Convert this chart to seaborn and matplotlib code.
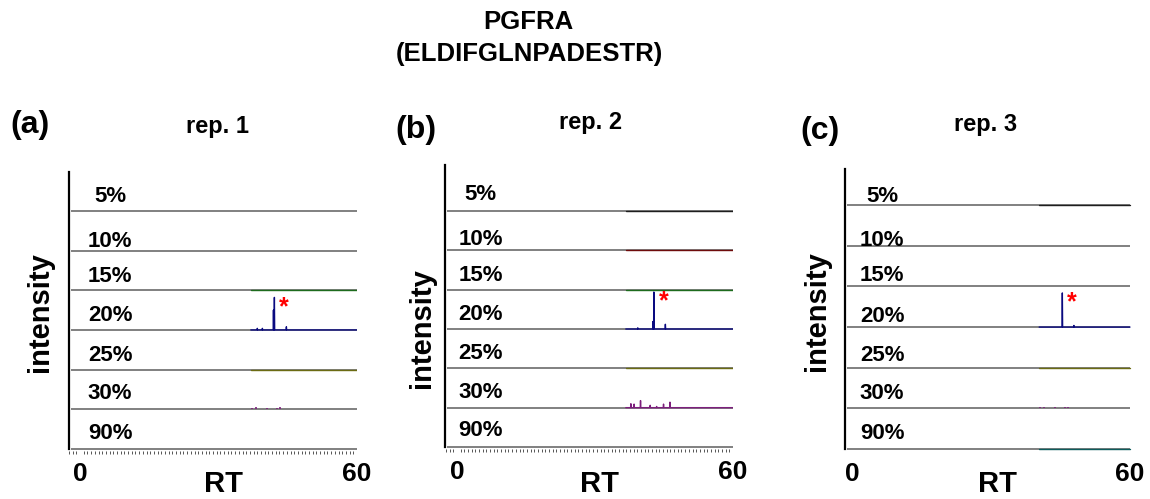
import matplotlib
matplotlib.use("Agg")
import pandas as pd
import matplotlib.pyplot as plt
import seaborn as sns
from matplotlib.ticker import MultipleLocator, NullLocator

# ---- data ----
rows = ['5%', '10%', '15%', '20%', '25%', '30%', '90%']
row_colors = ['#1e1e1e', '#6e0b0b', '#1d6b1d', '#0a0a80', '#6b6b12', '#7d1f7d', '#0c5c5c']
reps = ['rep. 1', 'rep. 2', 'rep. 3']
panel_tags = ['(a)', '(b)', '(c)']
rt_range = [0, 60]

# RT where the recorded trace starts (min) for each replicate
trace_start = [37.0, 36.7, 40.4]
# rows that have a coloured trace
traced_rep1 = ['15%', '20%', '25%']
traced_rep2 = ['5%', '10%', '15%', '20%', '25%', '30%']
traced_rep3 = ['5%', '20%', '25%', '90%']

# peaks: retention time (min) and relative intensity (fraction of one row)
rep1_20_rt = [38.4, 39.5, 41.9, 42.1, 44.7]
rep1_20_int = [0.04, 0.04, 0.50, 0.82, 0.08]
rep1_30_rt = [37.2, 38.1, 40.4, 42.6, 43.3]
rep1_30_int = [0.03, 0.05, 0.03, 0.04, 0.05]
rep2_20_rt = [39.3, 42.6, 42.8, 45.3]
rep2_20_int = [0.03, 0.19, 0.94, 0.12]
rep2_30_rt = [37.8, 38.5, 39.9, 42.0, 43.4, 44.9, 46.3]
rep2_30_int = [0.10, 0.09, 0.18, 0.06, 0.03, 0.09, 0.14]
rep3_20_rt = [45.4, 47.9]
rep3_20_int = [0.84, 0.04]
rep3_30_rt = [40.6, 41.5, 43.9, 46.0, 46.6]
rep3_30_int = [0.03, 0.03, 0.03, 0.03, 0.04]

# target peak (marked with *) per replicate
target_rt = [42.1, 42.8, 45.4]
target_int = [0.82, 0.94, 0.84]

traced = [traced_rep1, traced_rep2, traced_rep3]
peaks = [
    {'20%': (rep1_20_rt, rep1_20_int), '30%': (rep1_30_rt, rep1_30_int)},
    {'20%': (rep2_20_rt, rep2_20_int), '30%': (rep2_30_rt, rep2_30_int)},
    {'20%': (rep3_20_rt, rep3_20_int), '30%': (rep3_30_rt, rep3_30_int)},
]

# ---- layout (pixels of the 1150x499 canvas) ----
W, H = 1150, 499
boxes = [(69, 172, 357, 449), (445, 165, 733, 447), (845, 169, 1133, 449)]
xlims = [(-2.4, 60), (-2.6, 60), (-1.5, 60.65)]
ytops = [6.98, 7.17, 6.89]
label_x = [6.5, 5.2, 6.5]
# baseline of row label, px above the row line
label_off = [[9, 4, 8, 9, 9, 10, 10],
             [11, 5, 9, 9, 9, 10, 11],
             [3, 0, 5, 5, 7, 9, 10]]
ylab_xy = [(40, 312), (422, 328), (817, 311)]
xlab_xy = [(224, 484), (600, 484), (998, 484)]
tag_xy = [(30, 125), (416, 130), (820, 131)]
rep_xy = [(217, 126), (591, 122), (986, 124)]

sns.set_theme(style="white")
plt.rcParams['font.family'] = ['Liberation Sans', 'DejaVu Sans']
plt.rcParams['font.weight'] = 'bold'
plt.rcParams['text.color'] = 'black'
plt.rcParams['axes.labelcolor'] = 'black'
plt.rcParams['xtick.color'] = 'black'

fig = plt.figure(figsize=(W / 100, H / 100), dpi=100)
palette = dict(zip(rows, row_colors))
n = len(rows)
ybot = -0.05

for k in range(3):
    l, t, r, b0 = boxes[k]
    px_per_row = (b0 - t) / ytops[k]
    b = b0 - ybot * px_per_row  # extend a little so the bottom trace is not clipped
    ax = fig.add_axes([l / W, 1 - b / H, (r - l) / W, (b - t) / H])
    ax.set_xlim(*xlims[k])
    ax.set_ylim(ybot, ytops[k])
    bases = {row: n - 1 - i for i, row in enumerate(rows)}

    # row baselines
    ax.hlines(list(bases.values()), xlims[k][0] + 0.4, rt_range[1],
              color='#5e5e5e', lw=1.1, zorder=1)

    # coloured traces
    recs = []
    for row in traced[k]:
        pts = [(trace_start[k], 0.0)]
        if row in peaks[k]:
            for rt, h in sorted(zip(*peaks[k][row])):
                pts += [(rt - 0.06, 0.0), (rt, h), (rt + 0.06, 0.0)]
        pts.append((rt_range[1], 0.0))
        for rt, h in pts:
            recs.append({'row': row, 'RT': rt, 'y': bases[row] + h})
    df = pd.DataFrame(recs)
    sns.lineplot(data=df, x='RT', y='y', hue='row', palette=palette,
                 estimator=None, sort=False, legend=False, lw=1.0, ax=ax, zorder=2)

    # small peaks on rows without a coloured trace
    for row, (rts, hs) in peaks[k].items():
        if row not in traced[k]:
            ax.vlines(rts, bases[row], [bases[row] + h for h in hs],
                      color=palette[row], lw=1.2, zorder=2)

    # target peak marker
    ax.annotate('*', xy=(target_rt[k], bases['20%'] + target_int[k]),
                xytext=(7, -12), textcoords='offset points',
                color='red', fontsize=18, fontweight='bold', ha='center', va='baseline')

    # row labels
    for i, row in enumerate(rows):
        ax.text(label_x[k], bases[row] + label_off[k][i] / px_per_row, row,
                ha='center', va='baseline', fontsize=16, fontweight='bold', color='black')

    for side in ['top', 'right', 'bottom']:
        ax.spines[side].set_visible(False)
    ax.spines['left'].set_color('black')
    ax.spines['left'].set_linewidth(1.6)
    ax.spines['left'].set_bounds(0, ytops[k])
    ax.set_yticks([])
    ax.set_xticks(rt_range)
    ax.set_xticklabels([str(v) for v in rt_range])
    ax.tick_params(axis='x', which='major', length=0, labelsize=19, pad=8)
    if k < 2:
        ax.xaxis.set_minor_locator(MultipleLocator(0.8))
        ax.tick_params(axis='x', which='minor', bottom=True, length=2.2,
                       width=0.7, color='#555555', direction='out')
    else:
        ax.xaxis.set_minor_locator(NullLocator())
    for lab in ax.get_xticklabels():
        lab.set_fontweight('bold')

    ax.set_xlabel('RT', fontsize=21, fontweight='bold', va='center')
    ax.xaxis.set_label_coords((xlab_xy[k][0] - l) / (r - l), (b - xlab_xy[k][1]) / (b - t))
    ax.set_ylabel('intensity', fontsize=21, fontweight='bold', va='center')
    ax.yaxis.set_label_coords((ylab_xy[k][0] - l) / (r - l), (b - ylab_xy[k][1]) / (b - t))

    fig.text(tag_xy[k][0] / W, 1 - tag_xy[k][1] / H, panel_tags[k],
             ha='center', va='center', fontsize=23, fontweight='bold')
    fig.text(rep_xy[k][0] / W, 1 - rep_xy[k][1] / H, reps[k],
             ha='center', va='center', fontsize=17, fontweight='bold')

fig.text(528 / W, 1 - 22 / H, 'PGFRA', ha='center', va='center', fontsize=18.5, fontweight='bold')
fig.text(529 / W, 1 - 54 / H, '(ELDIFGLNPADESTR)', ha='center', va='center',
         fontsize=18.5, fontweight='bold')

fig.savefig("out.png", dpi=100)
